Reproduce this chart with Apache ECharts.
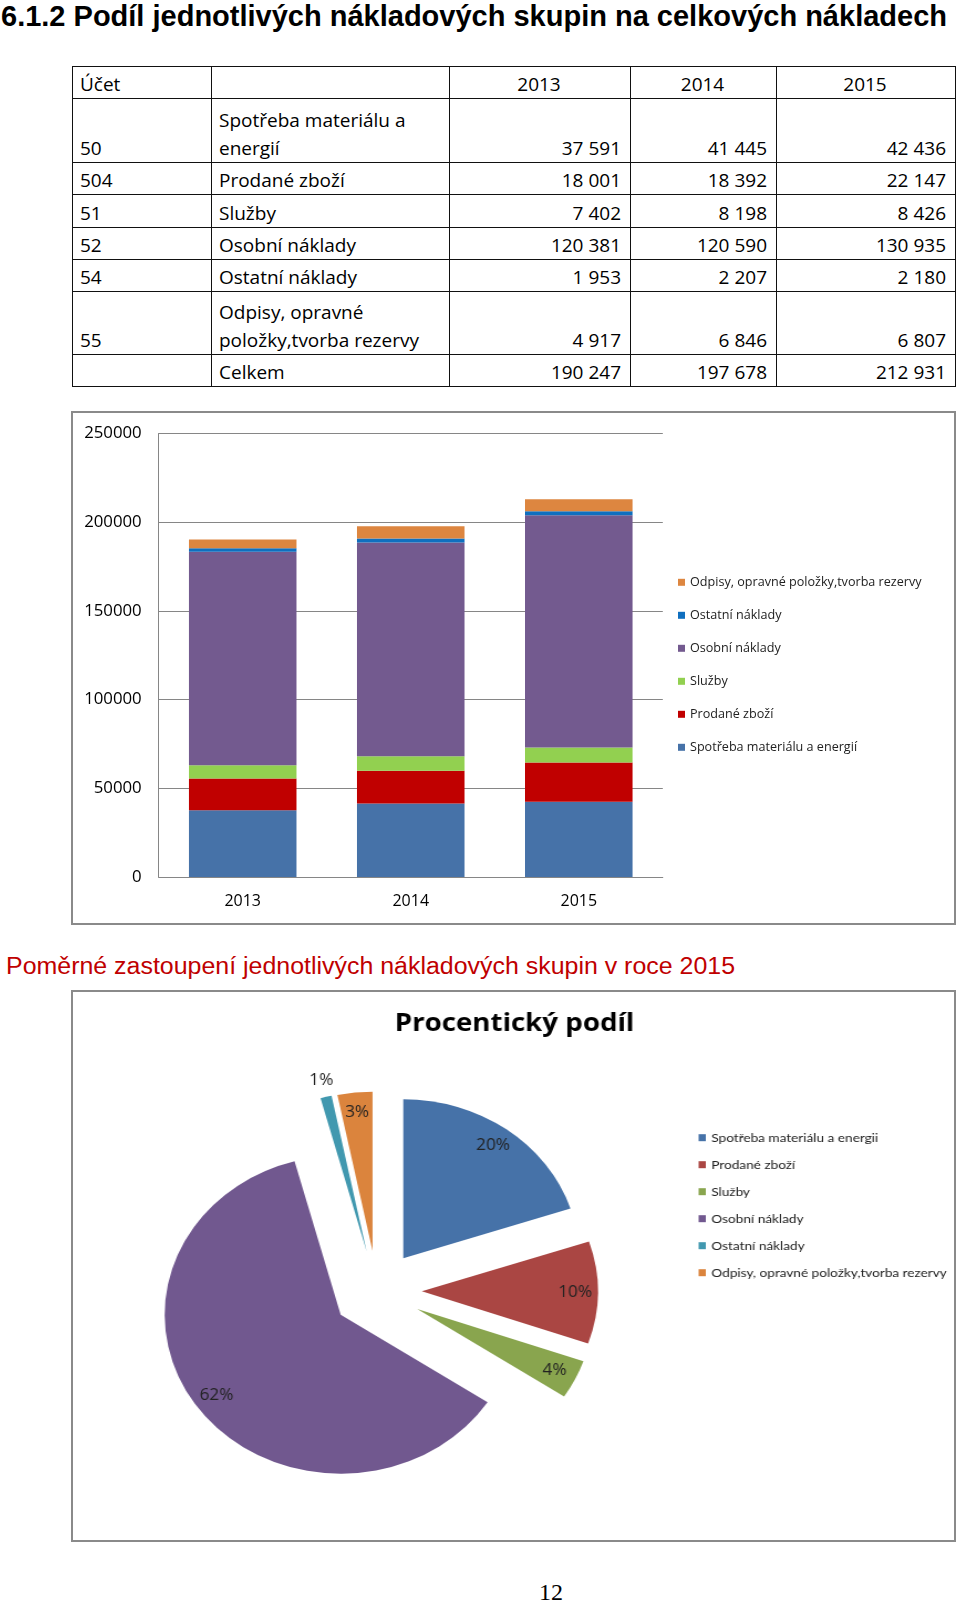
<!DOCTYPE html>
<html><head><meta charset="utf-8">
<script src="https://cdn.jsdelivr.net/npm/echarts@6/dist/echarts.min.js"></script>
<style>
html,body{margin:0;padding:0;background:#fff;}
body{width:960px;height:1604px;position:relative;overflow:hidden;}
#heading{position:absolute;left:1px;top:1.5px;font:bold 29px/29px "Liberation Sans",Arial,sans-serif;white-space:nowrap;transform-origin:0 0;color:#000;}
#subtitle{position:absolute;left:6px;top:955px;font:23px/23px "Liberation Sans",Arial,sans-serif;color:#C00000;white-space:nowrap;transform-origin:0 0;}
#pagenum{position:absolute;left:539px;top:1580px;font:24px/24px "Liberation Serif","Times New Roman",serif;color:#000;}
#tbl{position:absolute;left:72px;top:66px;border-collapse:collapse;table-layout:fixed;font:19px/28px "Open Sans",sans-serif;color:#000;}
#tbl td{border:1px solid #111;padding:0 9px 0 7px;vertical-align:bottom;overflow:hidden;}
#tbl td.n{text-align:right;}
#tbl td.c{text-align:center;}
.box{position:absolute;border:2px solid #8a8a8a;box-sizing:border-box;pointer-events:none;}
.chart{position:absolute;}
#pie{transform:scaleX(1.107);transform-origin:270px 0;}
</style></head>
<body>
<div id="heading">6.1.2 Podíl jednotlivých nákladových skupin na celkových nákladech</div>
<table id="tbl"><colgroup><col style="width:139px"><col style="width:238px"><col style="width:181px"><col style="width:146px"><col style="width:179px"></colgroup><tbody id="tb"></tbody></table>
<div id="bar" class="chart" style="left:72px;top:412px;width:883px;height:512px;"></div>
<div class="box" style="left:71px;top:411px;width:885px;height:514px;"></div>
<div id="subtitle">Poměrné zastoupení jednotlivých nákladových skupin v roce 2015</div>
<div id="pie" class="chart" style="left:107px;top:991px;width:790px;height:548px;"></div>
<div class="box" style="left:71px;top:990px;width:885px;height:552px;"></div>
<div id="pagenum">12</div>
<script>
// ---- data ----
const years = ['2013', '2014', '2015'];
const accounts = ['50', '504', '51', '52', '54', '55'];
const categories = ['Spotřeba materiálu a energií', 'Prodané zboží', 'Služby', 'Osobní náklady', 'Ostatní náklady', 'Odpisy, opravné položky,tvorba rezervy'];
const pieNames = ['Spotřeba materiálu a energii', 'Prodané zboží', 'Služby', 'Osobní náklady', 'Ostatní náklady', 'Odpisy, opravné položky,tvorba rezervy'];
const v2013 = [37591, 18001, 7402, 120381, 1953, 4917];
const v2014 = [41445, 18392, 8198, 120590, 2207, 6846];
const v2015 = [42436, 22147, 8426, 130935, 2180, 6807];
const totals = [190247, 197678, 212931];
const totalLabel = 'Celkem';
const headerLabel = 'Účet';
const yMin = 0, yMax = 250000, yStep = 50000;

// ---- styles ----
const barColors = ['#4672A8', '#C00000', '#92D050', '#735A8F', '#0F6FBF', '#DD8640'];
const pieColors = ['#4672A8', '#AA4643', '#89A54E', '#71588F', '#4198AF', '#DB843D'];

function fmt(n) { return String(n).replace(/\B(?=(\d{3})+(?!\d))/g, '\u00a0'); }

// ---- table ----
const rowHeights = [32, 64, 32, 33, 32, 32, 63, 32];
const tb = document.getElementById('tb');
function addRow(cells, h) {
  const tr = document.createElement('tr');
  tr.style.height = h + 'px';
  cells.forEach(c => { const td = document.createElement('td'); td.textContent = c.t; if (c.cls) td.className = c.cls; tr.appendChild(td); });
  tb.appendChild(tr);
}
addRow([{t: headerLabel}, {t: ''}].concat(years.map(y => ({t: y, cls: 'c'}))), rowHeights[0]);
const yearVals = [v2013, v2014, v2015];
categories.forEach((name, i) => {
  addRow([{t: accounts[i]}, {t: name}].concat(yearVals.map(v => ({t: fmt(v[i]), cls: 'n'}))), rowHeights[i + 1]);
});
addRow([{t: ''}, {t: totalLabel}].concat(totals.map(v => ({t: fmt(v), cls: 'n'}))), rowHeights[7]);

// ---- fit text widths ----
function fit(id, w) { const el = document.getElementById(id); const cw = el.getBoundingClientRect().width; el.style.transform = 'scaleX(' + (w / cw) + ')'; }
fit('heading', 946);
fit('subtitle', 729);

// ---- bar chart ----
const bar = echarts.init(document.getElementById('bar'), null, {renderer: 'canvas'});
bar.setOption({
  animation: false,
  textStyle: {fontFamily: 'Open Sans'},
  grid: {left: 86.7, top: 21.5, right: 292.2, bottom: 47},
  legend: {
    orient: 'vertical', left: 601, top: 158.3, itemWidth: 7, itemHeight: 7, itemGap: 19, icon: 'rect',
    textStyle: {fontSize: 12.6, color: '#222', lineHeight: 14, fontFamily: 'Open Sans'},
    data: categories.slice().reverse()
  },
  xAxis: {
    type: 'category', data: years,
    axisTick: {show: false},
    axisLine: {lineStyle: {color: '#868686', width: 1}},
    axisLabel: {color: '#000', fontSize: 16, margin: 16, fontFamily: 'Open Sans'}
  },
  yAxis: {
    type: 'value', min: yMin, max: yMax, interval: yStep,
    axisLine: {show: true, lineStyle: {color: '#868686', width: 1}},
    axisTick: {show: false},
    splitLine: {lineStyle: {color: '#868686', width: 1}},
    axisLabel: {color: '#000', fontSize: 16.8, margin: 17, fontFamily: 'Open Sans', formatter: v => String(v)}
  },
  series: categories.map((n, i) => ({
    type: 'bar', name: n, stack: 'total', barCategoryGap: '36%',
    itemStyle: {color: barColors[i]},
    emphasis: {disabled: true},
    data: yearVals.map(v => v[i])
  }))
});

// ---- pie chart (container stretched horizontally like the reference) ----
const pie = echarts.init(document.getElementById('pie'), null, {renderer: 'canvas'});
const pieCenter = [270, 300];
const R = 159;
const pieData = pieNames.map((n, i) => ({name: n, value: v2015[i], selected: true, itemStyle: {color: pieColors[i]}}));
const labelData = pieNames.map((n, i) => {
  const d = {name: n, value: v2015[i], selected: true};
  if (i === 4) {
    d.label = {position: 'outside', distanceToLabelLine: -10.5};
    d.labelLine = {show: false, length: 17, length2: 0};
  }
  return d;
});
pie.setOption({
  animation: false,
  title: {text: 'Procentický podíl', left: 394.2, textAlign: 'center', top: 20, padding: 0,
    textStyle: {fontFamily: 'Open Sans', fontWeight: 'bold', fontSize: 25, color: '#000'}},
  legend: {
    orient: 'vertical', left: 555.5, top: 134.7, itemWidth: 6.5, itemHeight: 7, itemGap: 13, icon: 'rect',
    textStyle: {fontSize: 12.3, color: '#222', lineHeight: 14, fontFamily: 'Lato'},
    data: pieNames
  },
  series: [
    {
      type: 'pie', center: pieCenter, radius: [0, R], startAngle: 90, clockwise: true,
      selectedMode: 'multiple', selectedOffset: 40.5, percentPrecision: 0,
      avoidLabelOverlap: false,
      label: {show: false}, labelLine: {show: false},
      emphasis: {disabled: true},
      data: pieData
    },
    {
      type: 'pie', name: 'labels', center: pieCenter, radius: [112, R], startAngle: 90, clockwise: true,
      selectedMode: 'multiple', selectedOffset: 40.5, percentPrecision: 0,
      avoidLabelOverlap: false, silent: true,
      itemStyle: {color: 'rgba(0,0,0,0)'},
      label: {show: true, position: 'inside', formatter: '{d}%', fontSize: 15.5, color: '#222', fontFamily: 'Open Sans'},
      labelLine: {show: false, length: 17, length2: 0},
      emphasis: {disabled: true},
      data: labelData
    }
  ]
});
</script>
</body></html>
